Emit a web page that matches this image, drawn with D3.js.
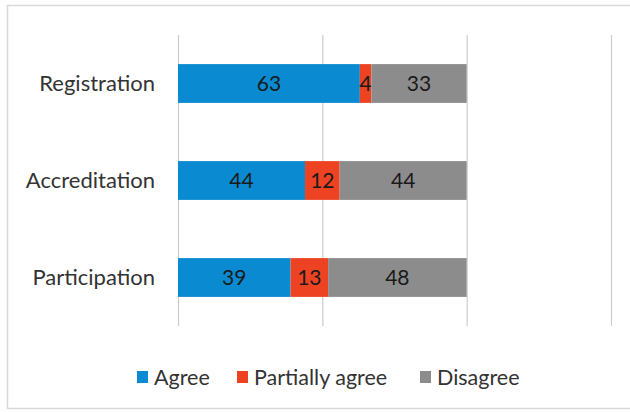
<!DOCTYPE html>
<html><head><meta charset="utf-8">
<script src="https://cdn.jsdelivr.net/npm/d3@7"></script>
<style>html,body{margin:0;padding:0;background:#fff;}</style>
</head><body>
<svg id="c" width="630" height="412"></svg>
<script>
const categories = ["Registration", "Accreditation", "Participation"];
const seriesNames = ["Agree", "Partially agree", "Disagree"];
const agree = [63, 44, 39];
const partiallyAgree = [4, 12, 13];
const disagree = [33, 44, 48];
const xTicks = [0, 50, 100, 150];
const colors = ["#0A8AD0", "#EE4323", "#8C8C8C"];

const svg = d3.select("#c");
svg.append("rect").attr("x", 7.5).attr("y", 5.5).attr("width", 640).attr("height", 403)
  .attr("fill", "#fff").attr("stroke", "#D9D9D9").attr("stroke-width", 1.5);

const x = d3.scaleLinear().domain([0, 150]).range([178, 611]);
const y = d3.scaleBand().domain(categories).range([35, 326]).paddingInner(0.6).paddingOuter(0.3);

svg.append("g").selectAll("line").data(xTicks).join("line")
  .attr("x1", d => x(d) + 0.5).attr("x2", d => x(d) + 0.5)
  .attr("y1", 35).attr("y2", 326)
  .attr("stroke", "#CCCCCC").attr("stroke-width", 1.2);

const rows = categories.map((c, i) => ({cat: c, vals: [agree[i], partiallyAgree[i], disagree[i]]}));
const stack = d3.stack().keys([0,1,2]).value((d, k) => d.vals[k]);
const layers = stack(rows);

const font = "Lato, 'Open Sans', sans-serif";
layers.forEach((layer, k) => {
  const g = svg.append("g");
  g.selectAll("rect").data(layer).join("rect")
    .attr("x", d => x(d[0])).attr("width", d => x(d[1]) - x(d[0]))
    .attr("y", d => y(d.data.cat)).attr("height", y.bandwidth())
    .attr("fill", colors[k]);
  g.selectAll("text").data(layer).join("text")
    .attr("x", d => (x(d[0]) + x(d[1])) / 2)
    .attr("y", d => y(d.data.cat) + y.bandwidth() / 2)
    .attr("dy", "0.36em").attr("text-anchor", "middle")
    .attr("font-family", font).attr("font-size", 21).attr("fill", "#1a1a1a")
    .text(d => d.data.vals[k]);
});

svg.append("g").selectAll("text").data(categories).join("text")
  .attr("x", 155).attr("y", d => y(d) + y.bandwidth() / 2).attr("dy", "0.36em")
  .attr("text-anchor", "end").attr("font-family", font).attr("font-size", 22).attr("fill", "#333")
  .text(d => d);

const legendX = [137, 237, 420];
const lg = svg.append("g");
seriesNames.forEach((n, k) => {
  lg.append("rect").attr("x", legendX[k]).attr("y", 371).attr("width", 11).attr("height", 12).attr("fill", colors[k]);
  lg.append("text").attr("x", legendX[k] + 17).attr("y", 377).attr("dy", "0.36em")
    .attr("font-family", font).attr("font-size", 21.5).attr("fill", "#333").text(n);
});
</script>
</body></html>
